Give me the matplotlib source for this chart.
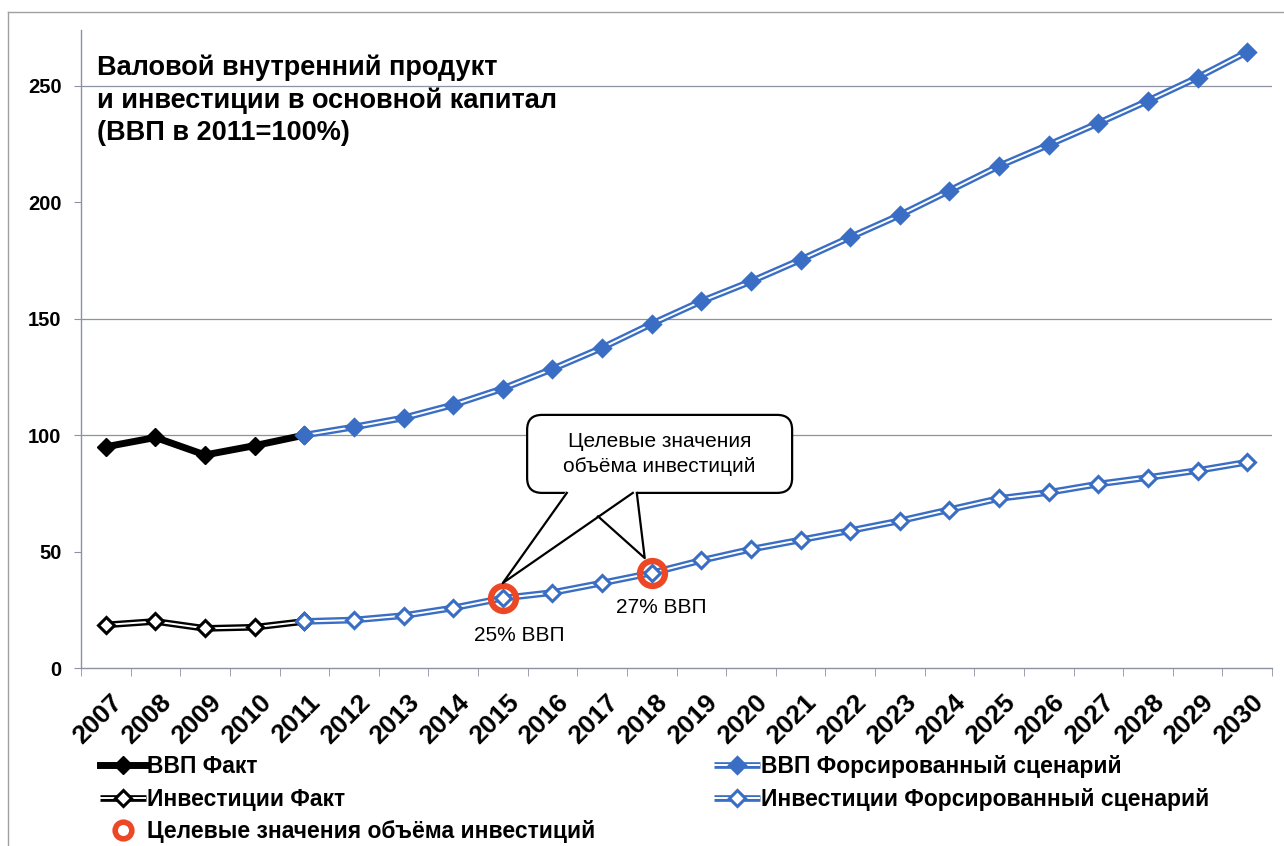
# -*- coding: utf-8 -*-
# ВВП и инвестиции в основной капитал, 2007-2030 (ВВП 2011 = 100%)

import numpy as np
from matplotlib import pyplot as plt
from matplotlib.lines import Line2D
from matplotlib.patches import FancyBboxPatch, Polygon
from matplotlib.legend_handler import HandlerTuple

plt.rcParams['font.family'] = ['Liberation Sans', 'DejaVu Sans']

years = [str(y) for y in range(2007, 2031)]

# факт 2007-2011
gdp_fact = [95, 99, 91.5, 95.5, 100]
inv_fact = [18.5, 20, 17, 17.5, 20]

# форсированный сценарий 2011-2030
gdp_forced = [100, 103.5, 107.4, 113, 120, 128.4, 137.5, 147.8, 157.5, 166,
              175.3, 185, 194.5, 205, 215.6, 224.7, 234, 243.6, 253.6, 264.6]
inv_forced = [20, 20.6, 22.5, 25.8, 30, 32.4, 36.5, 40.8, 46.2, 51,
              55, 59, 63.2, 68, 72.8, 75.4, 79, 81.8, 84.8, 88.4]

# целевые значения объёма инвестиций
target_years = ['2015', '2018']
target_labels = ['25% ВВП', '27% ВВП']

blue = '#3a6ec4'
red = '#ec4826'
gray = '#8c92a4'

x = np.arange(len(years))
x_fact = x[:len(gdp_fact)]
x_forced = x[len(gdp_fact) - 1:]
x_target = [years.index(y) for y in target_years]
y_target = [inv_forced[years.index(y) - (len(gdp_fact) - 1)] for y in target_years]

fig = plt.figure(figsize=(12.84, 8.46), dpi=100)
ax = fig.add_axes([81 / 1284, 1 - 668 / 846, 1191 / 1284, 638 / 846])


def double_line(xs, ys, color, filled, z):
    # "двойная" линия как в Excel: цветной контур, белая середина
    outer, = ax.plot(xs, ys, color=color, lw=4.8, solid_capstyle='butt', zorder=z)
    inner, = ax.plot(xs, ys, color='white', lw=1.4, solid_capstyle='butt', zorder=z + 0.1)
    mk, = ax.plot(xs, ys, ls='none', marker='D', ms=8.5, mew=2.2,
                  mec=color, mfc=color if filled else 'white', zorder=z + 0.2)
    return (outer, inner, mk)


h_gdp_fact, = ax.plot(x_fact, gdp_fact, color='black', lw=5, marker='D', ms=9,
                      solid_joinstyle='miter', zorder=3)
h_inv_fact = double_line(x_fact, inv_fact, 'black', False, 3)
h_gdp_forced = double_line(x_forced, gdp_forced, blue, True, 4)
h_inv_forced = double_line(x_forced, inv_forced, blue, False, 4)

ax.plot(x_target, y_target, ls='none', marker='o', ms=18, mfc='none',
        mec=red, mew=4.5, zorder=6)
h_target = Line2D([], [], ls='none', marker='o', ms=12, mfc='white', mec=red, mew=4)

# подписи к целевым точкам
offsets = [(12, -27), (7, -25)]
for xt, yt, lab, off in zip(x_target, y_target, target_labels, offsets):
    ax.annotate(lab, (xt, yt), xytext=off, textcoords='offset points',
                ha='center', va='center', fontsize=15)

# выноска "Целевые значения объёма инвестиций"
box_x0, box_x1 = 8.49, 13.83
box_y0, box_y1 = 75.2, 108.7
aspect = 49.63 / 2.328
box = FancyBboxPatch((box_x0, box_y0), box_x1 - box_x0, box_y1 - box_y0,
                     boxstyle='round,pad=0,rounding_size=0.3', mutation_aspect=aspect,
                     fc='white', ec='black', lw=1.6, zorder=7)
ax.add_patch(box)
tails = [((9.39, 10.70), (x_target[1] - 0.14, y_target[1] + 6.4)),
         ((9.29, 10.62), (x_target[0], y_target[0] + 6.5))]
for i, ((b0, b1), (tx, ty)) in enumerate(tails):
    z = 7.2 + 0.3 * i
    ax.add_patch(Polygon([(b0, box_y0 + 1.2), (tx, ty), (b1, box_y0 + 1.2)],
                         closed=True, fc='white', ec='none', zorder=z))
    ax.plot([b0, tx, b1], [box_y0, ty, box_y0], color='black', lw=1.6, zorder=z + 0.1)
ax.text((box_x0 + box_x1) / 2, (box_y0 + box_y1) / 2,
        'Целевые значения\nобъёма инвестиций', ha='center', va='center',
        fontsize=15, linespacing=1.35, zorder=8)

# оси
ax.set_xlim(-0.5, len(years) - 0.5)
ax.set_ylim(0, 274)
ax.set_yticks([0, 50, 100, 150, 200, 250])
# подписи годов чуть правее центра категории, как в Excel
ax.set_xticks(x + 0.25)
ax.set_xticks(np.arange(-0.5, len(years)), minor=True)
ax.set_xticklabels(years, rotation=45, ha='right', va='center',
                   rotation_mode='anchor', fontsize=19, fontweight='bold')
ax.tick_params(axis='x', which='major', length=0, pad=22)
ax.tick_params(axis='x', which='minor', length=6, color=gray, direction='out')
ax.tick_params(axis='y', length=5, color=gray, pad=9)
for t in ax.get_yticklabels():
    t.set_fontweight('bold')
    t.set_fontsize(14.5)

for s in ['top', 'right']:
    ax.spines[s].set_visible(False)
for s in ['left', 'bottom']:
    ax.spines[s].set_color(gray)
    ax.spines[s].set_linewidth(1.0)

ax.grid(axis='y', color=gray, lw=0.9)
ax.set_axisbelow(True)
# на исходнике линии сетки 50 и 200 не видны
grid_hidden = [50, 200]
for tick_val, gl in zip(ax.get_yticks(), ax.get_ygridlines()):
    if tick_val in grid_hidden or tick_val == 0:
        gl.set_visible(False)

# заголовок
title_lines = ['Валовой внутренний продукт',
               'и инвестиции в основной капитал',
               '(ВВП в 2011=100%)']
for i, line in enumerate(title_lines):
    fig.text(97 / 1284, 1 - (68 + 32.5 * i) / 846, line, ha='left', va='center',
             fontsize=19.5, fontweight='bold')

# легенда
fig.legend([h_gdp_fact, h_inv_fact, h_target, h_gdp_forced, h_inv_forced],
           ['ВВП Факт', 'Инвестиции Факт', 'Целевые значения объёма инвестиций',
            'ВВП Форсированный сценарий', 'Инвестиции Форсированный сценарий'],
           handler_map={tuple: HandlerTuple(ndivide=1, pad=0)},
           loc='upper left', bbox_to_anchor=(100 / 1284, 1 - 755 / 846),
           borderpad=0, borderaxespad=0,
           ncol=2, frameon=False, handlelength=2.0, handletextpad=0.05,
           columnspacing=5.2, labelspacing=0.42,
           prop={'weight': 'bold', 'size': 16.5})

# рамка вокруг диаграммы
fig.add_artist(Line2D([8 / 1284, 1], [1 - 12 / 846, 1 - 12 / 846], color='#a0a0a0', lw=1))
fig.add_artist(Line2D([8 / 1284, 8 / 1284], [0, 1 - 12 / 846], color='#a0a0a0', lw=1))

plt.savefig('out.png', dpi=100)
